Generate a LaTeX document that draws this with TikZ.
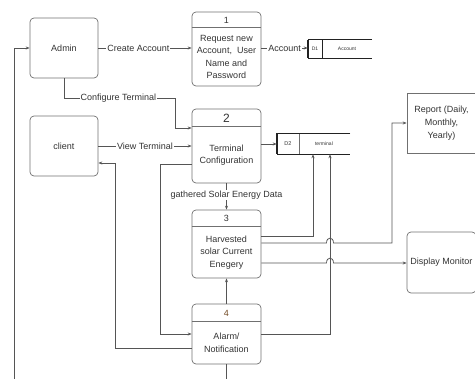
\documentclass[tikz,border=0pt]{standalone}
\usepackage{fontspec}
\setmainfont{Liberation Sans}
\usetikzlibrary{arrows.meta}
\definecolor{cline}{HTML}{555555}
\definecolor{bline}{HTML}{707070}
\definecolor{tcol}{HTML}{333333}
\definecolor{sline}{HTML}{222222}
\begin{document}
\begin{tikzpicture}[x=1pt,y=-1pt, font=\fontsize{9}{11}\selectfont,
  line/.style={draw=cline, line width=0.7pt},
  arr/.style={line, -{Stealth[length=4pt,width=3pt]}},
  box/.style={draw=bline, line width=0.7pt, rounded corners=4pt, inner sep=0pt, text=tcol, align=center},
  proc/.style={box, minimum width=69pt},
  hdr/.style={draw=bline, line width=0.7pt},
  lbl/.style={fill=white, inner sep=1pt, text=tcol},
  txt/.style={text=tcol, align=center, inner sep=0pt, font=\fontsize{9}{12.5}\selectfont},
  store/.style={draw=sline, line width=0.6pt},
  tiny/.style={text=tcol, inner sep=0pt, font=\fontsize{5}{6}\selectfont}]
\useasboundingbox (0,0) rectangle (475,379);

% external entities
\node[box, minimum width=68pt, minimum height=60pt] (admin) at (64,48) {Admin};
\node[box, minimum width=68pt, minimum height=60pt] (client) at (64,146) {client};
\node[draw=bline, line width=0.7pt, minimum width=69pt, minimum height=60pt, inner sep=0pt,
      align=center, text=tcol, font=\fontsize{9}{13}\selectfont] (report) at (441.5,123) {Report (Daily,\\Monthly,\\Yearly)};
\node[box, minimum width=69pt, minimum height=61pt] (disp) at (441.5,262.5) {Display Monitor};

% processes
\node[proc, minimum height=74pt] (p1) at (226.5,49) {};
\draw[hdr] ([yshift=-16pt]p1.north west) -- ([yshift=-16pt]p1.north east);
\node[txt] (p1n) at (226.5,20) {1};
\node[txt] (p1t) at (226.5,57) {Request new\\Account,~ User\\Name and\\Password};

\node[proc, minimum height=74pt] (p2) at (226.5,146) {};
\draw[hdr] ([yshift=-18pt]p2.north west) -- ([yshift=-18pt]p2.north east);
\node[txt, font=\fontsize{12}{14}\selectfont] (p2n) at (226.5,118) {2};
\node[txt] (p2t) at (226.5,155) {Terminal\\Configuration};

\node[proc, minimum height=68pt] (p3) at (226.5,244) {};
\draw[hdr] ([yshift=-17pt]p3.north west) -- ([yshift=-17pt]p3.north east);
\node[txt] (p3n) at (226.5,218.5) {3};
\node[txt] (p3t) at (226.5,252.5) {Harvested\\solar Current\\Enegery};

\node[proc, minimum height=60pt] (p4) at (226.5,334) {};
\draw[hdr] ([yshift=-18pt]p4.north west) -- ([yshift=-18pt]p4.north east);
\node[txt, text=brown!60!black] (p4n) at (226.5,313) {4};
\node[txt] (p4t) at (226.5,343) {Alarm/\\Notification};

% data stores
\node[inner sep=0pt, minimum width=64pt, minimum height=18pt] (d1) at (340,49) {};
\draw[store] (d1.north east) -- (d1.north west) -- (d1.south west) -- (d1.south east);
\draw[store, line width=1pt] (d1.north west) -- (d1.south west);
\draw[store] (322,40) -- (322,58);
\node[tiny] (d1a) at (315,49) {D1};
\node[tiny] (d1b) at (347,49) {Account};

\node[inner sep=0pt, minimum width=73pt, minimum height=20pt] (d2) at (313.5,144) {};
\draw[store] (d2.north east) -- (d2.north west) -- (d2.south west) -- (d2.south east);
\draw[store, line width=1pt] (d2.north east) -- (d2.north west) -- (d2.south west);
\draw[store, draw=bline] (299,134) -- (299,154);
\node[tiny, font=\fontsize{5.5}{6}\selectfont] (d2a) at (288,144) {D2};
\node[tiny] (d2b) at (324,144) {terminal};

% connectors
\draw[arr] (admin.east) -- (admin.east -| p1.west) node[lbl, pos=0.43] {Create Account};
\draw[arr] (p1.east |- admin.east) -- (d1.west |- admin.east) node[lbl, pos=0.5] {Account};

\coordinate (c1) at (175,98); \coordinate (c2) at (175,128);
\draw[arr] (admin.south) |- (c1) node[lbl, pos=0.745] {Configure Terminal} -- (c2) -- (c2 -| p2.west);

\draw[arr] (client.east) -- (client.east -| p2.west) node[lbl, pos=0.5] {View Terminal};
\draw[arr] (p2.east |- d2.west) -- (d2.west);
\draw[arr] (p2.south) -- (p3.north) node[lbl, pos=0.45] {gathered Solar Energy Data};
\draw[arr] (p4.north) -- (p3.south);

\coordinate (b4) at (226.5,381);
\draw[line] (p4.south) -- (b4);
\coordinate (bl) at (14,381);
\draw[arr] (bl) |- (admin.west);

\coordinate (a1) at (115,348); \coordinate (a2) at (115,163); \coordinate (a3) at (98,163);
\draw[arr] (a1 -| p4.west) -- (a1) -- (a2) -- (a3 -| client.east);

\coordinate (q1) at (160,164); \coordinate (q2) at (160,334);
\draw[arr] (q1 -| p2.west) -- (q1) -- (q2) -- (q2 -| p4.west);

\coordinate (r1) at (313,236);
\draw[arr] (r1 -| p3.east) -- (r1) -- (r1 |- d2.south);

\coordinate (s1) at (330,334);
\draw[arr] (s1 -| p4.east) -- (s1) -- (s1 |- d2.south);

\coordinate (t1) at (326.5,243); \coordinate (t2) at (333.5,243);
\coordinate (t3) at (392,243);
\draw[arr] (t1 -| p3.east) -- (t1) .. controls (326.5,236.5) and (333.5,236.5) .. (t2) -- (t3) |- (report.west);

\coordinate (u1) at (326.5,263); \coordinate (u2) at (333.5,263);
\draw[arr] (u1 -| p3.east) -- (u1) .. controls (326.5,256.5) and (333.5,256.5) .. (u2) -- (u2 -| disp.west);
\end{tikzpicture}
\end{document}
